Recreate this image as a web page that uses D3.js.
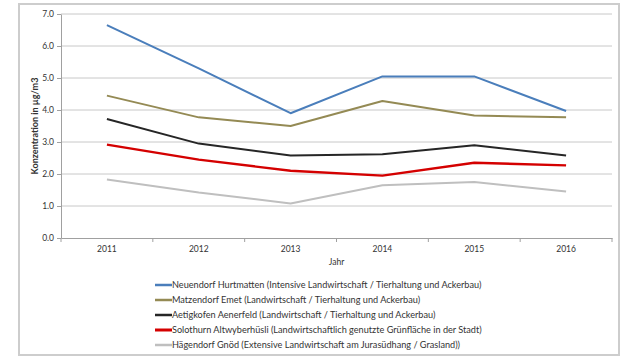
<!DOCTYPE html>
<html><head><meta charset="utf-8">
<script src="https://cdn.jsdelivr.net/npm/d3@7"></script>
<style>body{margin:0;background:#fff}svg{display:block}text{font-family:Lato,"Open Sans",sans-serif;fill:#333}</style>
</head><body><svg id="c" width="640" height="360"></svg>
<script>
const years = ["2011","2012","2013","2014","2015","2016"];
const yTicks = [0,1,2,3,4,5,6,7];
const seriesNames = [
 "Neuendorf Hurtmatten (Intensive Landwirtschaft / Tierhaltung und Ackerbau)",
 "Matzendorf Emet (Landwirtschaft / Tierhaltung und Ackerbau)",
 "Aetigkofen Aenerfeld (Landwirtschaft / Tierhaltung und Ackerbau)",
 "Solothurn Altwyberhüsli (Landwirtschaftlich genutzte Grünfläche in der Stadt)",
 "Hägendorf Gnöd (Extensive Landwirtschaft am Jurasüdhang / Grasland))"
];
const neuendorf = [6.65, 5.30, 3.90, 5.05, 5.05, 3.97];
const matzendorf = [4.45, 3.77, 3.50, 4.28, 3.83, 3.77];
const aetigkofen = [3.72, 2.95, 2.58, 2.62, 2.90, 2.58];
const solothurn = [2.92, 2.45, 2.10, 1.95, 2.35, 2.27];
const haegendorf = [1.83, 1.42, 1.08, 1.65, 1.75, 1.45];
const colors = ["#4a7ebb","#948a54","#262626","#d40000","#bfbfbf"];
const widths = [2,2,2,2.4,2];
const series = [neuendorf, matzendorf, aetigkofen, solothurn, haegendorf];

const svg = d3.select("#c");
svg.append("rect").attr("x",19).attr("y",4).attr("width",600).attr("height",351)
  .attr("fill","none").attr("stroke","#cdcdcd").attr("stroke-width",2);

const L=61, R=612, T=14, B=238;
const x = d3.scaleBand().domain(years).range([L,R]);
const y = d3.scaleLinear().domain([0,7]).range([B,T]);

svg.append("g").selectAll("line").data(yTicks.slice(1)).join("line")
  .attr("x1",L).attr("x2",R).attr("y1",d=>y(d)).attr("y2",d=>y(d))
  .attr("stroke","#c8c8c8").attr("stroke-width",1);

const ya = svg.append("g").attr("transform",`translate(${L},0)`)
  .call(d3.axisLeft(y).tickValues(yTicks).tickFormat(d3.format(".1f")).tickSize(4).tickSizeOuter(0));
ya.select(".domain").attr("stroke","#a0a0a0");
ya.selectAll(".tick line").attr("stroke","#a0a0a0");
ya.selectAll("text").attr("font-size",8.5).attr("fill","#333").attr("x",-7);

const xa = svg.append("g").attr("transform",`translate(0,${B})`)
  .call(d3.axisBottom(x).tickSize(0).tickSizeOuter(0));
xa.select(".domain").attr("stroke","#a0a0a0");
xa.selectAll("text").attr("font-size",8.5).attr("fill","#333").attr("dy","0").attr("y",14);
const bounds = years.map((d,i)=>x(d)).concat([R]);
svg.append("g").selectAll("line").data(bounds).join("line")
  .attr("x1",d=>d).attr("x2",d=>d).attr("y1",B).attr("y2",B+4)
  .attr("stroke","#a0a0a0");

svg.append("text").attr("x",(L+R)/2).attr("y",265).attr("text-anchor","middle")
  .attr("font-size",8.5).text("Jahr");
const yt = svg.append("text").attr("transform",`translate(38,126) rotate(-90)`)
  .attr("text-anchor","middle").attr("font-size",10).attr("font-weight","bold").attr("fill","#222")
  .text("Konzentration in µg/m3");
const ytw = yt.node().getComputedTextLength();
yt.attr("font-size", 10*97/ytw);

const line = d3.line().x((d,i)=>x(years[i])+x.bandwidth()/2).y(d=>y(d));
svg.append("g").selectAll("path").data(series).join("path")
  .attr("d",d=>line(d)).attr("fill","none")
  .attr("stroke",(d,i)=>colors[i]).attr("stroke-width",(d,i)=>widths[i])
  .attr("stroke-linejoin","round");

const lg = svg.append("g").selectAll("g").data(seriesNames).join("g")
  .attr("transform",(d,i)=>`translate(155,${285+i*15})`);
lg.append("line").attr("x1",0).attr("x2",17).attr("y1",0).attr("y2",0)
  .attr("stroke",(d,i)=>colors[i]).attr("stroke-width",(d,i)=>i===3?3:2.5);
const lt = lg.append("text").attr("x",17).attr("y",3.4).attr("font-size",10).text(d=>d);
const w0 = lt.nodes()[0].getComputedTextLength();
lt.attr("font-size", 10*310/w0);
</script></body></html>
